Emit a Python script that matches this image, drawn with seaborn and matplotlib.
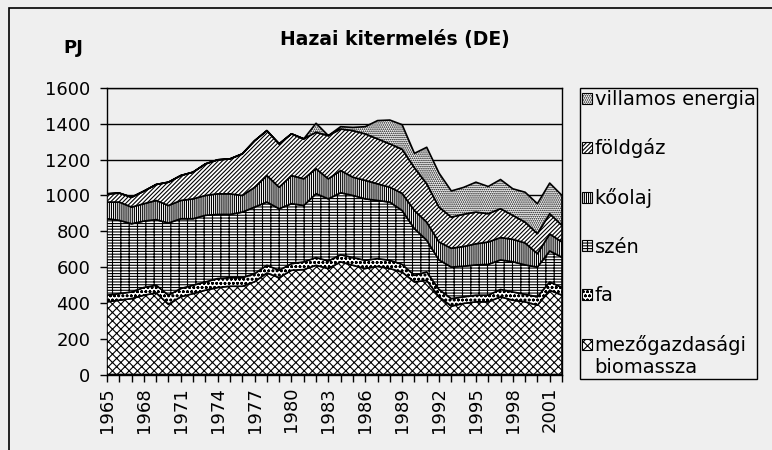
import numpy as np
import matplotlib.pyplot as plt
import seaborn as sns
from matplotlib.patches import Patch, Rectangle
from matplotlib.legend_handler import HandlerPatch

years = list(range(1965, 2003))

# PJ per year (bottom to top)
mezogazdasagi = [406, 415, 424, 443, 456, 392, 434, 452, 471, 486, 493, 493, 518,
                 567, 541, 582, 586, 610, 592, 629, 610, 592, 604, 592, 572, 517,
                 526, 434, 382, 397, 406, 406, 434, 415, 406, 387, 471, 443]
fa = [37, 37, 37, 43, 43, 51, 46, 47, 46, 50, 48, 48, 45, 43, 41, 37, 43, 43, 42,
      40, 43, 46, 43, 46, 43, 37, 47, 41, 42, 37, 37, 37, 41, 46, 42, 47, 46, 43]
szen = [427, 409, 381, 371, 366, 403, 390, 371, 372, 358, 353, 366, 372, 353, 344,
        335, 315, 357, 347, 346, 347, 343, 325, 325, 301, 261, 177, 165, 176, 171,
        169, 172, 165, 169, 164, 166, 173, 169]
koolaj = [93, 102, 93, 97, 107, 98, 102, 111, 111, 115, 115, 93, 110, 148, 120, 157,
          149, 139, 112, 124, 102, 103, 93, 83, 96, 101, 101, 100, 105, 110, 118, 125,
          125, 125, 123, 75, 95, 85]
foldgaz = [46, 50, 55, 70, 89, 130, 139, 149, 176, 190, 195, 232, 260, 251, 242, 233,
           223, 204, 241, 232, 260, 260, 251, 242, 246, 239, 214, 195, 174, 180, 177,
           158, 161, 134, 116, 112, 113, 93]
villamos = [0, 0, 0, 0, 0, 0, 0, 0, 0, 0, 0, 0, 0, 0, 0, 0, 0, 50, 0, 13, 18, 40,
            102, 133, 137, 80, 204, 190, 146, 150, 167, 152, 163, 148, 167, 167, 171, 167]

labels = ['mezőgazdasági\nbiomassza', 'fa', 'szén', 'kőolaj', 'földgáz', 'villamos energia']
hatches = ['xxxx', 'oooo', '----++', '||||||||', '////////', '........']
tick_labels = [str(y) if (y - 1965) % 3 == 0 else '' for y in years]

bg = '#efefef'
sns.set_theme(style='white')
plt.rcParams['font.family'] = ['DejaVu Sans']
plt.rcParams['hatch.linewidth'] = 0.8
plt.rcParams['hatch.color'] = 'black'
for k in ['text.color', 'axes.labelcolor', 'xtick.color', 'ytick.color']:
    plt.rcParams[k] = 'black'

fig = plt.figure(figsize=(7.72, 4.5), dpi=100, facecolor=bg)
ax = fig.add_axes([107 / 772, 1 - 374.5 / 450, 455 / 772, 286.5 / 450])
ax.set_facecolor(bg)

polys = ax.stackplot(years, mezogazdasagi, fa, szen, koolaj, foldgaz, villamos,
                     colors=['white'] * 6, edgecolor='black', linewidth=1.2, zorder=3)
for p, h in zip(polys, hatches):
    p.set_hatch(h)

ax.set_xlim(1965, 2002)
ax.set_ylim(0, 1600)
ax.set_yticks(range(0, 1601, 200))
ax.set_xticks(years)
ax.set_xticklabels(tick_labels, rotation=90)
ax.grid(axis='y', color='black', linewidth=1)
ax.grid(axis='x', visible=False)
ax.set_axisbelow(True)
for s in ax.spines.values():
    s.set_color('black')
    s.set_linewidth(1)
ax.tick_params(axis='x', bottom=True, length=5, width=1, color='black', pad=4, labelsize=13)
ax.tick_params(axis='y', left=True, length=5, width=1, color='black', pad=7, labelsize=13)

fig.text(395 / 772, 1 - 39 / 450, 'Hazai kitermelés (DE)', ha='center', va='center',
         fontsize=13.5, fontweight='bold')
fig.text(73 / 772, 1 - 48 / 450, 'PJ', ha='center', va='center', fontsize=13, fontweight='bold')


# keep the two-line entry's swatch next to its first line
def top_patch(legend, orig_handle, xdescent, ydescent, width, height, fontsize):
    return Rectangle((-xdescent, -ydescent + 0.6 * fontsize), width, height)


handles = [Patch(facecolor='white', edgecolor='black', hatch=h, linewidth=0.8) for h in hatches]
leg = fig.legend(handles[::-1], labels[::-1], loc='upper left',
                 bbox_to_anchor=(580 / 772, 1 - 88 / 450), fontsize=14, frameon=True,
                 fancybox=False, edgecolor='black', facecolor=bg, framealpha=1,
                 handlelength=0.5, handleheight=0.5, handletextpad=0.15,
                 labelspacing=1.52, borderpad=0.1, borderaxespad=0,
                 handler_map={handles[0]: HandlerPatch(patch_func=top_patch)})
leg.get_frame().set_linewidth(1)

fig.add_artist(Rectangle((9 / 772, -0.1), 1.2, 1.1 - 8 / 450, transform=fig.transFigure,
                         fill=False, edgecolor='black', linewidth=1.2))

fig.savefig('out.png', dpi=100, facecolor=bg)
